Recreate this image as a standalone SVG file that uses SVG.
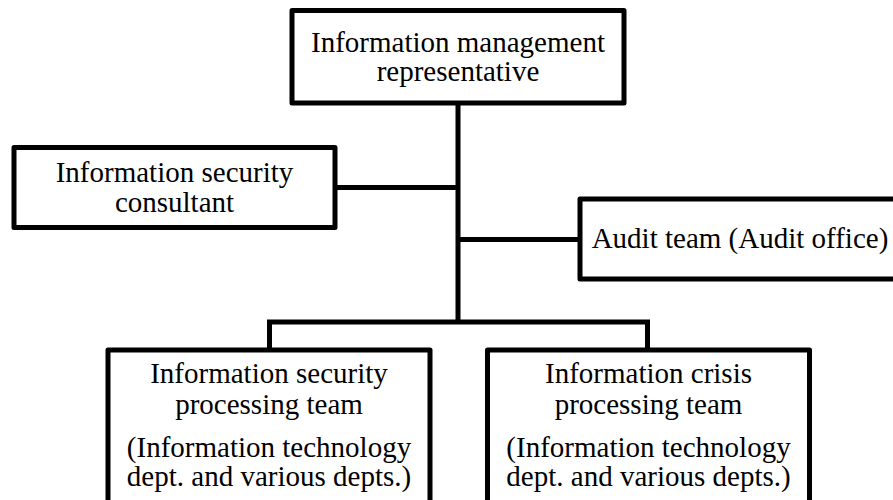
<svg xmlns="http://www.w3.org/2000/svg" width="893" height="500" viewBox="0 0 893 500">
  <style>
    .box { fill: #ffffff; stroke: #000000; stroke-width: 5; stroke-linejoin: round; }
    .link { fill: none; stroke: #000000; stroke-width: 5; stroke-linejoin: miter; }
    .label { font-family: 'Liberation Serif', 'DejaVu Serif', serif; font-size: 29px; fill: #000000; text-anchor: middle; }
  </style>
  <rect width="893" height="500" fill="#ffffff"/>

  <g id="connectors">
    <path class="link" d="M458,103 V322"/>
    <path class="link" d="M335,187.5 H458"/>
    <path class="link" d="M458,239.5 H580"/>
    <path class="link" d="M269.5,350 V322 H647.5 V350"/>
  </g>

  <g id="node-representative">
    <rect class="box" x="292" y="10.5" width="332" height="92.5"/>
    <text class="label" x="458" y="52">Information management</text>
    <text class="label" x="458" y="81">representative</text>
  </g>

  <g id="node-consultant">
    <rect class="box" x="14" y="147.5" width="321" height="80"/>
    <text class="label" x="174.5" y="182">Information security</text>
    <text class="label" x="174.5" y="212">consultant</text>
  </g>

  <g id="node-audit">
    <rect class="box" x="580" y="199" width="330" height="80"/>
    <text class="label" x="740" y="248">Audit team (Audit office)</text>
  </g>

  <g id="node-security-team">
    <rect class="box" x="108" y="350" width="322" height="170"/>
    <text class="label" x="269" y="383">Information security</text>
    <text class="label" x="269" y="414">processing team</text>
    <text class="label" x="269" y="457">(Information technology</text>
    <text class="label" x="269" y="486">dept. and various depts.)</text>
  </g>

  <g id="node-crisis-team">
    <rect class="box" x="487.5" y="350" width="322" height="170"/>
    <text class="label" x="648.5" y="383">Information crisis</text>
    <text class="label" x="648.5" y="414">processing team</text>
    <text class="label" x="648.5" y="457">(Information technology</text>
    <text class="label" x="648.5" y="486">dept. and various depts.)</text>
  </g>
</svg>
